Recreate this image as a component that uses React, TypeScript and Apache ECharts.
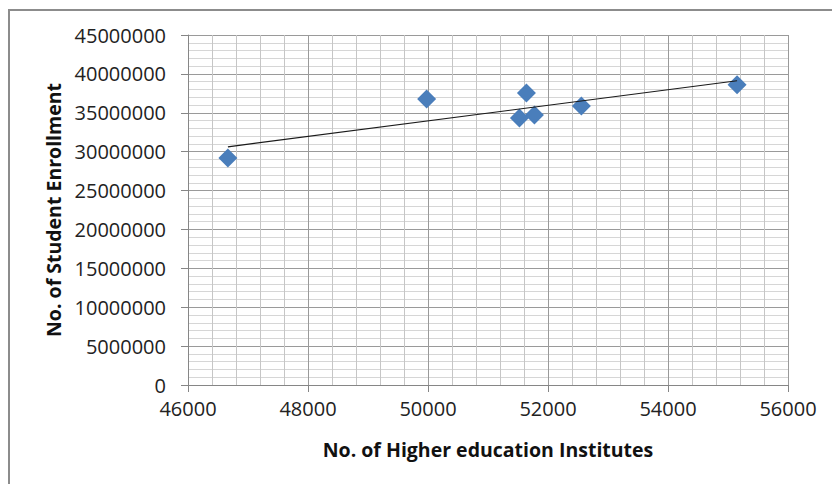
import React, { useEffect, useRef } from "react";
import * as echarts from "echarts";

// Data
const institutes = [46665, 49977, 51641, 51524, 51774, 52556, 55151];
const enrollment = [29190000, 36770000, 37540000, 34330000, 34710000, 35870000, 38600000];

// Axis ranges and tick spacing
const xRange = [46000, 56000];
const xInterval = 2000;
const yRange = [0, 45000000];
const yInterval = 5000000;

const xTitle = "No. of Higher education Institutes";
const yTitle = "No. of Student Enrollment";

function linearTrend(xs: number[], ys: number[]) {
  const n = xs.length;
  const mx = xs.reduce((a, b) => a + b, 0) / n;
  const my = ys.reduce((a, b) => a + b, 0) / n;
  let sxy = 0;
  let sxx = 0;
  for (let i = 0; i < n; i++) {
    sxy += (xs[i] - mx) * (ys[i] - my);
    sxx += (xs[i] - mx) * (xs[i] - mx);
  }
  const slope = sxy / sxx;
  const intercept = my - slope * mx;
  const x0 = Math.min(...xs);
  const x1 = Math.max(...xs);
  return [
    [x0, intercept + slope * x0],
    [x1, intercept + slope * x1],
  ];
}

export default function App() {
  const ref = useRef<HTMLDivElement>(null);

  useEffect(() => {
    if (!ref.current) return;
    const chart = echarts.init(ref.current, undefined, { renderer: "svg" });
    const points = institutes.map((x, i) => [x, enrollment[i]]);
    const trend = linearTrend(institutes, enrollment);
    const font = "'Open Sans', 'Liberation Sans', sans-serif";
    const plain = (v: number) => String(v);

    chart.setOption({
      animation: false,
      backgroundColor: "#ffffff",
      graphic: [
        {
          type: "rect",
          shape: { x: 9, y: 10, width: 900, height: 600 },
          style: { fill: "none", stroke: "#8c8c8c", lineWidth: 2 },
          silent: true,
        },
      ],
      grid: { left: 188, top: 35, width: 600, height: 350, containLabel: false },
      xAxis: {
        type: "value",
        min: xRange[0],
        max: xRange[1],
        interval: xInterval,
        name: xTitle,
        nameLocation: "middle",
        nameGap: 54,
        nameTextStyle: { fontFamily: font, fontWeight: "bold", fontSize: 19.5, color: "#111" },
        axisLine: { show: true, lineStyle: { color: "#868686", width: 1 } },
        axisTick: { show: true, inside: false, length: 7, lineStyle: { color: "#868686" } },
        axisLabel: {
          fontFamily: font,
          fontSize: 20,
          lineHeight: 16,
          color: "#222",
          margin: 15,
          formatter: plain,
        },
        splitLine: { show: true, lineStyle: { color: "#9a9a9a", width: 1 } },
        minorTick: { show: false, splitNumber: 5 },
        minorSplitLine: { show: true, lineStyle: { color: "#c6c6c6", width: 1 } },
      },
      yAxis: {
        type: "value",
        min: yRange[0],
        max: yRange[1],
        interval: yInterval,
        name: yTitle,
        nameLocation: "middle",
        nameGap: 118,
        nameTextStyle: { fontFamily: font, fontWeight: "bold", fontSize: 19.5, color: "#111" },
        axisLine: { show: true, lineStyle: { color: "#868686", width: 1 } },
        axisTick: { show: true, inside: false, length: 7, lineStyle: { color: "#868686" } },
        axisLabel: {
          fontFamily: font,
          fontSize: 20,
          lineHeight: 16,
          color: "#222",
          margin: 22,
          formatter: plain,
        },
        splitLine: { show: true, lineStyle: { color: "#9a9a9a", width: 1 } },
        minorTick: { show: false, splitNumber: 5 },
        minorSplitLine: { show: true, lineStyle: { color: "#d6d6d6", width: 1 } },
      },
      series: [
        {
          type: "scatter",
          data: points,
          symbol: "diamond",
          symbolSize: 19,
          itemStyle: { color: "#4A7EBB", opacity: 1 },
          z: 3,
        },
        {
          type: "line",
          data: trend,
          showSymbol: false,
          symbol: "none",
          lineStyle: { color: "#1a1a1a", width: 1.2 },
          z: 4,
          silent: true,
        },
      ],
    });

    return () => chart.dispose();
  }, []);

  return (
    <div
      ref={ref}
      style={{ position: "absolute", left: 0, top: 0, width: 832, height: 484, background: "#fff" }}
    />
  );
}
